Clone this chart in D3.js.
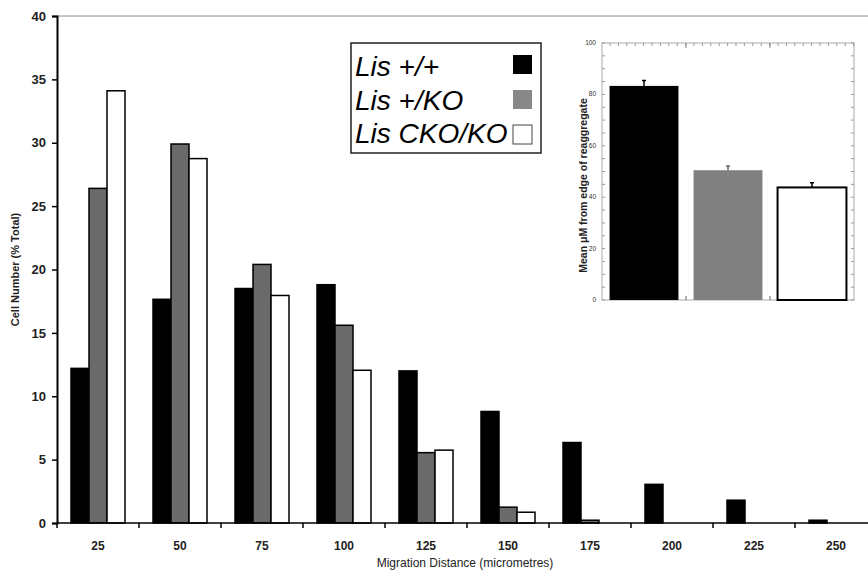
<!DOCTYPE html>
<html>
<head>
<meta charset="utf-8">
<script src="https://cdn.jsdelivr.net/npm/d3@7"></script>
<style>
  body { margin: 0; background: #fff; }
  svg { display: block; font-family: "Liberation Sans", Arial, sans-serif; }
</style>
</head>
<body>
<div id="chart"></div>
<script>
const distances = ["25", "50", "75", "100", "125", "150", "175", "200", "225", "250"];
const genotypes = ["Lis +/+", "Lis +/KO", "Lis CKO/KO"];
const wildType = [12.2, 17.65, 18.5, 18.8, 12.0, 8.8, 6.35, 3.05, 1.8, 0.22];
const heterozygous = [26.4, 29.9, 20.4, 15.6, 5.55, 1.25, 0.22, 0, 0, 0];
const knockout = [34.1, 28.75, 17.95, 12.05, 5.75, 0.85, 0, 0, 0, 0];
const yTicks = [0, 5, 10, 15, 20, 25, 30, 35, 40];

const insetMeans = [83.3, 50.5, 43.8];
const insetErrors = [2.1, 1.6, 1.8];
const insetTicks = [0, 20, 40, 60, 80, 100];

const width = 868, height = 571;
const svg = d3.select("#chart").append("svg")
    .attr("width", width)
    .attr("height", height);

// Main histogram
const x = d3.scaleBand().domain(distances).range([57, 877]).paddingInner(0).paddingOuter(0);
const xSub = d3.scaleBand().domain(genotypes).range([14, 68]);
const y = d3.scaleLinear().domain([0, 40]).range([523, 16]);

const fills = ["#000", "#6a6a6a", "#fff"];
const series = [wildType, heterozygous, knockout];

// top frame line
svg.append("line")
    .attr("x1", 57).attr("x2", width)
    .attr("y1", y(40)).attr("y2", y(40))
    .style("stroke", "#888")
    .style("stroke-width", 1);

const rows = distances.map((d, i) => ({ d, values: series.map(s => s[i]) }));

const groups = svg.selectAll(".group")
    .data(rows)
    .enter()
    .append("g")
    .attr("transform", r => `translate(${x(r.d)},0)`);

groups.selectAll("rect")
    .data(r => r.values.map((v, k) => ({ v, k })).filter(o => o.v > 0))
    .enter()
    .append("rect")
    .attr("x", o => xSub(genotypes[o.k]))
    .attr("width", xSub.bandwidth())
    .attr("y", o => y(o.v))
    .attr("height", o => y(0) - y(o.v))
    .style("fill", o => fills[o.k])
    .style("stroke", "#000")
    .style("stroke-width", 1.5);

// x axis
const xAxis = svg.append("g")
    .attr("transform", `translate(0,${y(0)})`);
xAxis.append("line")
    .attr("x1", 57).attr("x2", width)
    .style("stroke", "#000").style("stroke-width", 1.5);
xAxis.selectAll(".xt")
    .data(distances)
    .enter()
    .append("line")
    .attr("x1", d => x(d)).attr("x2", d => x(d))
    .attr("y1", 0).attr("y2", 5)
    .style("stroke", "#000").style("stroke-width", 1.5);
xAxis.selectAll(".xl")
    .data(distances)
    .enter()
    .append("text")
    .attr("x", d => x(d) + x.bandwidth() / 2)
    .attr("y", 27)
    .attr("text-anchor", "middle")
    .style("font-size", "12px")
    .style("font-weight", "bold")
    .style("fill", "#222")
    .text(d => d);

svg.append("text")
    .attr("x", 465)
    .attr("y", 567)
    .attr("text-anchor", "middle")
    .style("font-size", "12px")
    .style("fill", "#222")
    .text("Migration Distance (micrometres)");

// y axis
const yAxis = svg.append("g")
    .attr("transform", "translate(57,0)")
    .call(d3.axisLeft(y).tickValues(yTicks).tickSize(5).tickPadding(6));
yAxis.select(".domain").style("stroke-width", 2);
yAxis.selectAll(".tick line").style("stroke-width", 1.5);
yAxis.selectAll(".tick text")
    .style("font-size", "13px")
    .style("font-weight", "bold")
    .style("font-family", "Liberation Sans, Arial, sans-serif")
    .style("fill", "#222");

svg.append("text")
    .attr("transform", `translate(19,${(y(0) + y(40)) / 2}) rotate(-90)`)
    .attr("text-anchor", "middle")
    .style("font-size", "11px")
    .style("font-weight", "bold")
    .style("fill", "#222")
    .text("Cell Number (% Total)");

// Legend
const legend = svg.append("g").attr("transform", "translate(351,43)");
legend.append("rect")
    .attr("width", 190).attr("height", 110)
    .style("fill", "#fff")
    .style("stroke", "#222")
    .style("stroke-width", 1.5);
const legendFills = ["#000", "#888", "#fff"];
genotypes.forEach((g, i) => {
    legend.append("text")
        .attr("x", 4)
        .attr("y", 33 + i * 33.5)
        .style("font-size", "28px")
        .style("font-style", "italic")
        .text(g);
    legend.append("rect")
        .attr("x", 162)
        .attr("y", 12 + i * 35)
        .attr("width", 19).attr("height", 19)
        .style("fill", legendFills[i])
        .style("stroke", i === 2 ? "#444" : "none")
        .style("stroke-width", 1);
});

// Inset bar chart
const ix = d3.scaleBand().domain(genotypes).range([602, 854]).paddingInner(0.18).paddingOuter(0.09);
const iy = d3.scaleLinear().domain([0, 100]).range([300, 43]);
const inset = svg.append("g");

inset.append("rect")
    .attr("x", 602).attr("y", iy(100))
    .attr("width", 252).attr("height", iy(0) - iy(100))
    .style("fill", "#fff")
    .style("stroke", "#aaa")
    .style("stroke-width", 1);

const minor = d3.range(0, 101, 5);
inset.selectAll(".ml")
    .data(minor)
    .enter()
    .append("line")
    .attr("x1", 602).attr("x2", 605)
    .attr("y1", d => iy(d)).attr("y2", d => iy(d))
    .style("stroke", "#999");
inset.selectAll(".mr")
    .data(minor)
    .enter()
    .append("line")
    .attr("x1", 851).attr("x2", 854)
    .attr("y1", d => iy(d)).attr("y2", d => iy(d))
    .style("stroke", "#999");
const topTicks = d3.range(610, 854, 8.4);
inset.selectAll(".mt")
    .data(topTicks)
    .enter()
    .append("line")
    .attr("x1", d => d).attr("x2", d => d)
    .attr("y1", iy(100)).attr("y2", iy(100) + 3)
    .style("stroke", "#999");
inset.selectAll(".bt")
    .data(genotypes.slice(1))
    .enter()
    .append("line")
    .attr("x1", d => ix(d) - ix.step() * 0.09).attr("x2", d => ix(d) - ix.step() * 0.09)
    .attr("y1", iy(0)).attr("y2", iy(0) - 4)
    .style("stroke", "#666");
inset.selectAll(".tt")
    .data(genotypes.slice(1))
    .enter()
    .append("line")
    .attr("x1", d => ix(d) - ix.step() * 0.09).attr("x2", d => ix(d) - ix.step() * 0.09)
    .attr("y1", iy(100)).attr("y2", iy(100) + 5)
    .style("stroke", "#888");

inset.selectAll(".ib")
    .data(genotypes)
    .enter()
    .append("rect")
    .attr("x", d => ix(d))
    .attr("width", ix.bandwidth())
    .attr("y", (d, i) => iy(insetMeans[i]))
    .attr("height", (d, i) => iy(0) - iy(insetMeans[i]))
    .style("fill", (d, i) => ["#000", "#808080", "#fff"][i])
    .style("stroke", (d, i) => i === 2 ? "#000" : "none")
    .style("stroke-width", 2);

inset.selectAll(".err")
    .data(genotypes)
    .enter()
    .append("path")
    .attr("d", (d, i) => {
        const cx = ix(d) + ix.bandwidth() / 2;
        const top = iy(insetMeans[i] + insetErrors[i]);
        return `M${cx},${iy(insetMeans[i])}V${top}M${cx - 2},${top}H${cx + 2}`;
    })
    .style("stroke", (d, i) => i === 1 ? "#666" : "#000")
    .style("stroke-width", 1.5)
    .style("fill", "none");

inset.selectAll(".il")
    .data(insetTicks)
    .enter()
    .append("text")
    .attr("x", 596)
    .attr("y", d => iy(d) + 2)
    .attr("text-anchor", "end")
    .style("font-size", "6.5px")
    .style("fill", "#333")
    .text(d => d);

inset.append("text")
    .attr("transform", `translate(587,${(iy(0) + iy(100)) / 2 + 14}) rotate(-90)`)
    .attr("text-anchor", "middle")
    .style("font-size", "10.5px")
    .style("font-weight", "bold")
    .style("fill", "#222")
    .text("Mean \u03bcM from edge of reaggregate");
</script>
</body>
</html>
